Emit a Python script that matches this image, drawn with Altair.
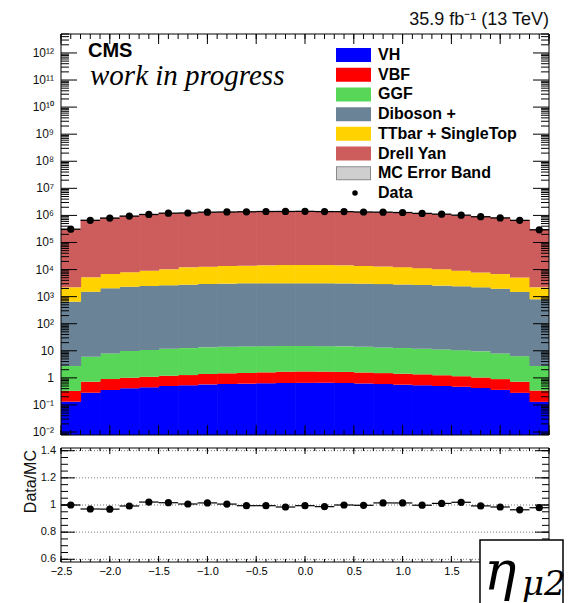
import altair as alt
import pandas as pd

# ---------------------------------------------------------------- data
# eta(mu2) bin centres, bin width 0.2
eta_centers = [-2.4, -2.2, -2.0, -1.8, -1.6, -1.4, -1.2, -1.0, -0.8, -0.6, -0.4, -0.2,
               0.0, 0.2, 0.4, 0.6, 0.8, 1.0, 1.2, 1.4, 1.6, 1.8, 2.0, 2.2, 2.4]
half_width = 0.1

# expected yields per process (events / bin)
vh = [0.132, 0.283, 0.356, 0.41, 0.447, 0.50, 0.53, 0.575, 0.593, 0.61, 0.63, 0.645, 0.655,
      0.66, 0.645, 0.62, 0.59, 0.56, 0.53, 0.50, 0.47, 0.42, 0.36, 0.28, 0.13]
vbf = [0.20, 0.44, 0.55, 0.60, 0.65, 0.70, 0.74, 0.82, 0.88, 0.90, 0.97, 1.05, 1.07,
       1.04, 1.02, 0.96, 0.91, 0.86, 0.82, 0.75, 0.68, 0.61, 0.54, 0.44, 0.21]
ggf = [2.4, 5.3, 7.1, 8.8, 9.6, 10.7, 11.3, 12.0, 12.6, 13.0, 13.2, 13.3, 13.3,
       13.1, 12.9, 12.4, 11.8, 11.2, 10.6, 10.0, 9.4, 8.5, 7.1, 5.6, 2.4]
diboson = [647, 1504, 2022, 2320, 2459, 2608, 2747, 2917, 3006, 3086, 3085, 3085, 3085,
           3085, 3065, 2986, 2887, 2787, 2688, 2539, 2390, 2191, 1942, 1494, 797]
ttbar = [1560, 3650, 4830, 5570, 6620, 7550, 9290, 9830, 10480, 10700, 11200, 11600, 11700,
         11600, 11220, 10600, 10100, 9500, 8600, 7750, 6700, 5600, 4850, 3600, 1400]
drell_yan = [307790, 674840, 813140, 942100, 1050910, 1179830, 1207950, 1287240, 1316500,
             1356200, 1385700, 1405300, 1405200, 1385300, 1365700, 1326400, 1287000,
             1247700, 1178700, 1089700, 990900, 892200, 813200, 674900, 297800]

# observed events
data_counts = [310000, 660000, 795000, 943000, 1083000, 1210000, 1229000, 1320000, 1339000,
               1363000, 1393000, 1399000, 1413000, 1383000, 1380000, 1337000, 1320000,
               1279000, 1188000, 1113000, 1020000, 894000, 808000, 656000, 294000]

# stacking order, bottom to top
process_names = ["VH", "VBF", "GGF", "Diboson +", "TTbar + SingleTop", "Drell Yan"]
process_colors = ["#0000ff", "#ff0000", "#57d657", "#6a8396", "#ffd200", "#cd5c5c"]
process_yields = [vh, vbf, ggf, diboson, ttbar, drell_yan]

legend_labels = ["VH", "VBF", "GGF", "Diboson +", "TTbar + SingleTop", "Drell Yan",
                 "MC Error Band", "Data"]

lumi_text = "35.9 fb\u207b\u00b9 (13 TeV)"
cms_text = "CMS"
wip_text = "work in progress"
ratio_title = "Data/MC"
var_symbol = "\u03b7"
var_sub = "\u03bc2"

# ---------------------------------------------------------------- geometry
W = 488
H_TOP = 401          # upper panel height
GAP = 13             # space between the two panels
H_RAT = 114          # ratio panel height
R0 = H_TOP + GAP     # ratio panel top
H = R0 + H_RAT       # full plotting height
X_DOM = [-2.5, 2.5]
Y_DOM = [10 ** -2.11, 10 ** 12.7]
R_DOM = [0.58, 1.42]
FONT = "Liberation Sans"
SEAM = 0.006         # tiny overlap so neighbouring bins join without hairline gaps

xs = alt.Scale(domain=X_DOM, nice=False, zero=False)
ys = alt.Scale(type="log", domain=Y_DOM, range=[H_TOP, 0], nice=False)
rs = alt.Scale(domain=R_DOM, range=[H, R0], nice=False, zero=False)

# ---------------------------------------------------------------- tables
rows = []
mc_total = [0.0] * len(eta_centers)
for name, yields in zip(process_names, process_yields):
    for i, c in enumerate(eta_centers):
        below = mc_total[i]
        top = below + yields[i]
        hi = c + half_width + (SEAM if i < len(eta_centers) - 1 else 0.0)
        rows.append({"process": name, "lo": c - half_width, "hi": hi,
                     "bottom": below if below > 0 else Y_DOM[0], "top": top})
        mc_total[i] = top
stack_df = pd.DataFrame(rows)

data_df = pd.DataFrame({
    "eta": eta_centers,
    "lo": [c - half_width for c in eta_centers],
    "hi": [c + half_width for c in eta_centers],
    "n": data_counts,
    "ratio": [d / m for d, m in zip(data_counts, mc_total)],
})

decades = [10.0 ** k for k in range(-2, 13)]
minor_log = [m * 10.0 ** k for k in range(-3, 13) for m in range(2, 10)
             if Y_DOM[0] < m * 10.0 ** k < Y_DOM[1]]
x_major = [-2.5, -2.0, -1.5, -1.0, -0.5, 0.0, 0.5, 1.0, 1.5, 2.0, 2.5]
x_labelled = [-2.5, -2.0, -1.5, -1.0, -0.5, 0.0, 0.5, 1.0, 1.5]   # 2 and 2.5 sit under the tag box
x_minor = [round(-2.5 + 0.1 * i, 1) for i in range(51)]
r_major = [0.6, 0.8, 1.0, 1.2, 1.4]
r_minor = [round(0.6 + 0.05 * i, 2) for i in range(17)]

sup = str.maketrans("0123456789-", "\u2070\u00b9\u00b2\u00b3\u2074\u2075\u2076\u2077\u2078\u2079\u207b")


def decade_label(k):
    if k == 0:
        return "1"
    if k == 1:
        return "10"
    return "10" + str(k).translate(sup)


decade_df = pd.DataFrame({"v": decades, "t": [decade_label(k) for k in range(-2, 13)]})

x_axis = alt.Axis(values=x_labelled, ticks=False, domain=False, grid=False, title=None,
                  labelFont=FONT, labelFontSize=11, labelColor="black", labelPadding=3,
                  labelFlush=False)


def X(field):
    return alt.X(field, scale=xs, axis=x_axis)


def tick_rules(values, channel, scale, a, b):
    """Inner tick marks drawn as short rules at scale positions."""
    df = pd.DataFrame({"v": values})
    base = alt.Chart(df).mark_rule(color="black", strokeWidth=1)
    if channel == "y":
        return base.encode(y=alt.Y("v:Q", scale=scale, axis=None),
                           x=alt.value(a), x2=alt.value(b))
    return base.encode(x=X("v:Q"), y=alt.value(a), y2=alt.value(b))


def label(text, x, y, **kw):
    return alt.Chart(pd.DataFrame({"t": [text]})).mark_text(**kw).encode(
        x=alt.value(x), y=alt.value(y), text="t:N")


# ---------------------------------------------------------------- upper panel
stack = alt.Chart(stack_df).mark_rect(strokeWidth=0).encode(
    x=X("lo:Q"),
    x2="hi:Q",
    y=alt.Y("bottom:Q", scale=ys, axis=None),
    y2="top:Q",
    color=alt.Color("process:N", scale=alt.Scale(domain=process_names, range=process_colors),
                    legend=None),
)

y_labels = alt.Chart(decade_df).mark_text(
    font=FONT, fontSize=12, align="right", baseline="middle", color="#111").encode(
    y=alt.Y("v:Q", scale=ys, axis=None), x=alt.value(-7), text="t:N")

data_bars = alt.Chart(data_df).mark_rule(color="black", strokeWidth=1.3).encode(
    x=X("lo:Q"), x2="hi:Q", y=alt.Y("n:Q", scale=ys, axis=None))
data_pts = alt.Chart(data_df).mark_circle(color="black", size=52, opacity=1).encode(
    x=X("eta:Q"), y=alt.Y("n:Q", scale=ys, axis=None))

top_ticks = [
    tick_rules(decades, "y", ys, 0, 16),
    tick_rules(minor_log, "y", ys, 0, 8),
    tick_rules(decades, "y", ys, W, W - 16),
    tick_rules(minor_log, "y", ys, W, W - 8),
    tick_rules(x_major, "x", xs, 0, 10),
    tick_rules(x_minor, "x", xs, 0, 5),
    tick_rules(x_major, "x", xs, H_TOP, H_TOP - 10),
    tick_rules(x_minor, "x", xs, H_TOP, H_TOP - 5),
]

lumi = label(lumi_text, W, -9, font=FONT, fontSize=18, align="right",
             baseline="alphabetic", color="#111")
cms = label(cms_text, 27, 23, font=FONT, fontSize=20, fontWeight="bold", align="left",
            baseline="alphabetic", color="black")
wip = label(wip_text, 29, 51, font="Liberation Serif", fontSize=29, fontStyle="italic",
            align="left", baseline="alphabetic", color="black")

legend_df = pd.DataFrame({"label": legend_labels,
                          "color": process_colors + ["#bdbdbd", "#000000"]})
row_scale = alt.Scale(type="point", domain=legend_labels, range=[21, 159], padding=0)
swatches = alt.Chart(legend_df[legend_df["label"].isin(process_names)]).mark_rule(
    strokeWidth=14, strokeCap="butt").encode(
    y=alt.Y("label:N", scale=row_scale, axis=None),
    x=alt.value(275), x2=alt.value(310),
    color=alt.Color("color:N", scale=None),
)
band_df = legend_df[legend_df["label"] == "MC Error Band"]
band_outer = alt.Chart(band_df).mark_rule(strokeWidth=14, strokeCap="butt", color="#8a8a8a").encode(
    y=alt.Y("label:N", scale=row_scale, axis=None), x=alt.value(275), x2=alt.value(310))
band_inner = alt.Chart(band_df).mark_rule(strokeWidth=12, strokeCap="butt", color="#cfcfcf").encode(
    y=alt.Y("label:N", scale=row_scale, axis=None), x=alt.value(276), x2=alt.value(309))
legend_marker = alt.Chart(legend_df[legend_df["label"] == "Data"]).mark_circle(
    color="black", size=30, opacity=1).encode(
    y=alt.Y("label:N", scale=row_scale, axis=None), x=alt.value(294))
legend_text = alt.Chart(legend_df).mark_text(
    font=FONT, fontSize=16, fontWeight="bold", align="left", baseline="middle", color="black"
).encode(y=alt.Y("label:N", scale=row_scale, axis=None), x=alt.value(317), text="label:N")

# ---------------------------------------------------------------- ratio panel
grid_df = pd.DataFrame({"v": r_major, "t": [f"{v:g}" for v in r_major]})
ratio_grid = alt.Chart(grid_df).mark_rule(color="#777", strokeWidth=1, strokeDash=[1, 2]).encode(
    y=alt.Y("v:Q", scale=rs, axis=None), x=alt.value(0), x2=alt.value(W))
ratio_ylabels = alt.Chart(grid_df).mark_text(
    font=FONT, fontSize=11, align="right", baseline="middle", color="#111").encode(
    y=alt.Y("v:Q", scale=rs, axis=None), x=alt.value(-5), text="t:N")

ratio_bars = alt.Chart(data_df).mark_rule(color="black", strokeWidth=1.2).encode(
    x=X("lo:Q"), x2="hi:Q", y=alt.Y("ratio:Q", scale=rs, axis=None))
ratio_pts = alt.Chart(data_df).mark_circle(color="black", size=52, opacity=1).encode(
    x=X("eta:Q"), y=alt.Y("ratio:Q", scale=rs, axis=None))

ratio_ticks = [
    tick_rules(r_major, "y", rs, 0, 14),
    tick_rules(r_minor, "y", rs, 0, 7),
    tick_rules(r_major, "y", rs, W, W - 14),
    tick_rules(r_minor, "y", rs, W, W - 7),
    tick_rules(x_major, "x", xs, R0, R0 + 6),
    tick_rules(x_minor, "x", xs, R0, R0 + 3),
    tick_rules(x_major, "x", xs, H, H - 6),
    tick_rules(x_minor, "x", xs, H, H - 3),
]
ratio_label = label(ratio_title, -30, R0 + 2, font=FONT, fontSize=16, angle=270,
                    align="right", baseline="middle", color="#111")

# panel frames
frames = [
    alt.Chart(pd.DataFrame({"p": ["upper"]})).mark_rect(fill=None, stroke="black", strokeWidth=1)
    .encode(x=alt.value(0), x2=alt.value(W), y=alt.value(0), y2=alt.value(H_TOP)),
    alt.Chart(pd.DataFrame({"p": ["ratio"]})).mark_rect(fill=None, stroke="black", strokeWidth=1)
    .encode(x=alt.value(0), x2=alt.value(W), y=alt.value(R0), y2=alt.value(H)),
]

# variable tag in the lower right corner
var_box = alt.Chart(pd.DataFrame({"p": ["tag"]})).mark_rect(
    fill="white", stroke="black", strokeWidth=1.5
).encode(x=alt.value(419), x2=alt.value(502), y=alt.value(R0 + 92), y2=alt.value(R0 + 160))
var_main = label(var_symbol, 423, R0 + 142, font="DejaVu Serif", fontSize=54,
                 fontStyle="italic", align="left", baseline="alphabetic", color="black")
var_subscript = label(var_sub, 461, R0 + 147, font="DejaVu Serif", fontSize=34,
                      fontStyle="italic", align="left", baseline="alphabetic", color="black")

# ---------------------------------------------------------------- assemble
chart = alt.layer(
    stack, y_labels, data_bars, data_pts, *top_ticks, lumi, cms, wip,
    swatches, band_outer, band_inner, legend_marker, legend_text,
    ratio_grid, ratio_ylabels, ratio_bars, ratio_pts, *ratio_ticks, ratio_label,
    *frames, var_box, var_main, var_subscript,
).resolve_scale(y="independent").properties(
    width=W, height=H,
    autosize=alt.AutoSizeParams(type="none"),
    padding={"left": 61, "top": 34, "right": 19, "bottom": 41},
    background="white",
).configure_view(stroke=None)

chart.save("out.html", embed_options={"renderer": "svg", "actions": False})
